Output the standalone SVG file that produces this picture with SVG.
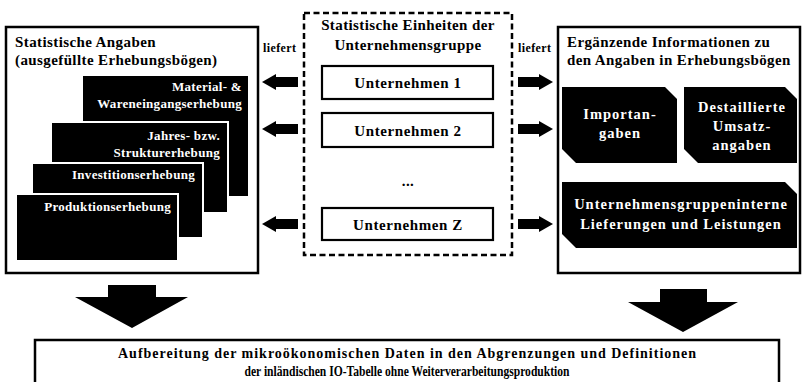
<svg xmlns="http://www.w3.org/2000/svg" width="803" height="382" viewBox="0 0 803 382" font-family="'Liberation Serif', Tinos, 'DejaVu Serif', serif">
<style>
text{font-family:'Liberation Serif',Tinos,'DejaVu Serif',serif;font-weight:bold}
.t{font-size:15px;fill:#000;letter-spacing:0.4px}
.u{font-size:15px;fill:#000;letter-spacing:0.6px}
.b{font-size:14px;fill:#000}
.b2{font-size:15px;fill:#000}
.w{font-size:13px;fill:#fff;letter-spacing:0.3px}
.wr{font-size:14.5px;fill:#fff;letter-spacing:1px}
.box{fill:#fff;stroke:#000;stroke-width:2.5}
.card{fill:#000;stroke:#fff;stroke-width:2}
.ub{fill:#fff;stroke:#000;stroke-width:2.2}
.lf{font-size:12px;fill:#000;letter-spacing:0.4px}
.arr{fill:#000}
</style>
<rect width="803" height="382" fill="#fff"/>
<g id="left-box">
<rect class="box" x="6" y="27" width="252" height="246"/>
<text class="t" x="15" y="47">Statistische Angaben</text>
<text class="t" x="15" y="65">(ausgefüllte Erhebungsbögen)</text>
</g>
<g id="card-material">
<rect class="card" x="82" y="75" width="167" height="122"/>
<text class="w" x="242" y="91" text-anchor="end">Material- &amp;</text>
<text class="w" x="242" y="108" text-anchor="end">Wareneingangserhebung</text>
</g>
<g id="card-jahres">
<rect class="card" x="51" y="122" width="177" height="91"/>
<text class="w" x="220" y="140" text-anchor="end">Jahres- bzw.</text>
<text class="w" x="220" y="157" text-anchor="end">Strukturerhebung</text>
</g>
<g id="card-invest">
<rect class="card" x="32" y="163" width="171" height="75"/>
<text class="w" x="195" y="179" text-anchor="end">Investitionserhebung</text>
</g>
<g id="card-produktion">
<rect class="card" x="16" y="194" width="162" height="67"/>
<text class="w" x="171" y="211" text-anchor="end">Produktionserhebung</text>
</g>
<g id="center-box">
<rect x="304" y="13" width="208" height="242" fill="none" stroke="#000" stroke-width="2.5" stroke-dasharray="6,3.5"/>
<text class="t" x="408" y="30" text-anchor="middle">Statistische Einheiten der</text>
<text class="t" x="408" y="50" text-anchor="middle">Unternehmensgruppe</text>
<text class="t" x="408" y="186" text-anchor="middle">...</text>
</g>
<g id="unternehmen-1">
<rect class="ub" x="322" y="66" width="171" height="33"/>
<text class="u" x="408" y="88" text-anchor="middle">Unternehmen 1</text>
</g>
<g id="unternehmen-2">
<rect class="ub" x="322" y="113" width="171" height="34"/>
<text class="u" x="408" y="136" text-anchor="middle">Unternehmen 2</text>
</g>
<g id="unternehmen-z">
<rect class="ub" x="322" y="208" width="171" height="32"/>
<text class="u" x="408" y="230" text-anchor="middle">Unternehmen Z</text>
</g>
<g id="right-box">
<rect class="box" x="558" y="27" width="242" height="246"/>
<text class="t" x="567" y="47">Ergänzende Informationen zu</text>
<text class="t" x="567" y="65">den Angaben in Erhebungsbögen</text>
</g>
<g id="importangaben">
<path d="M562,87 L665,87 L677,99 L677,163 L576,163 L562,149 Z" fill="#000"/>
<text class="wr" x="620" y="119" text-anchor="middle">Importan-</text>
<text class="wr" x="620" y="138" text-anchor="middle">gaben</text>
</g>
<g id="umsatzangaben">
<path d="M684,87 L785,87 L797,99 L797,163 L698,163 L684,149 Z" fill="#000"/>
<text class="wr" x="742" y="112" text-anchor="middle">Destaillierte</text>
<text class="wr" x="742" y="131" text-anchor="middle">Umsatz-</text>
<text class="wr" x="742" y="150" text-anchor="middle">angaben</text>
</g>
<g id="lieferungen">
<path d="M562,182 L785,182 L797,194 L797,248 L576,248 L562,234 Z" fill="#000"/>
<text class="wr" x="681" y="209" text-anchor="middle">Unternehmensgruppeninterne</text>
<text class="wr" x="681" y="229" text-anchor="middle">Lieferungen und Leistungen</text>
</g>
<g id="bottom-box">
<rect class="box" x="35" y="340" width="744" height="60"/>
<text class="b" x="407" y="358" text-anchor="middle" textLength="578" lengthAdjust="spacing">Aufbereitung der mikroökonomischen Daten in den Abgrenzungen und Definitionen</text>
<text class="b2" x="407" y="376" text-anchor="middle" textLength="325" lengthAdjust="spacingAndGlyphs">der inländischen IO-Tabelle ohne Weiterverarbeitungsproduktion</text>
</g>
<g id="connectors">
<text class="lf" x="263" y="52">liefert</text>
<text class="lf" x="518" y="52">liefert</text>
<path class="arr" d="M262,82 L276,74 L276,77 L298,77 L298,87 L276,87 L276,90 Z"/>
<path class="arr" d="M262,129 L276,121 L276,124 L298,124 L298,134 L276,134 L276,137 Z"/>
<path class="arr" d="M262,224 L276,216 L276,219 L298,219 L298,229 L276,229 L276,232 Z"/>
<path class="arr" d="M553,82 L539,74 L539,77 L518,77 L518,87 L539,87 L539,90 Z"/>
<path class="arr" d="M553,129 L539,121 L539,124 L518,124 L518,134 L539,134 L539,137 Z"/>
<path class="arr" d="M553,224 L539,216 L539,219 L518,219 L518,229 L539,229 L539,232 Z"/>
<path class="arr" d="M108,285 L156,285 L156,297 L188,297 L132,328 L75,297 L108,297 Z"/>
<path class="arr" d="M660,289 L707,289 L707,302 L738,302 L683,332 L628,302 L660,302 Z"/>
</g>
</svg>
